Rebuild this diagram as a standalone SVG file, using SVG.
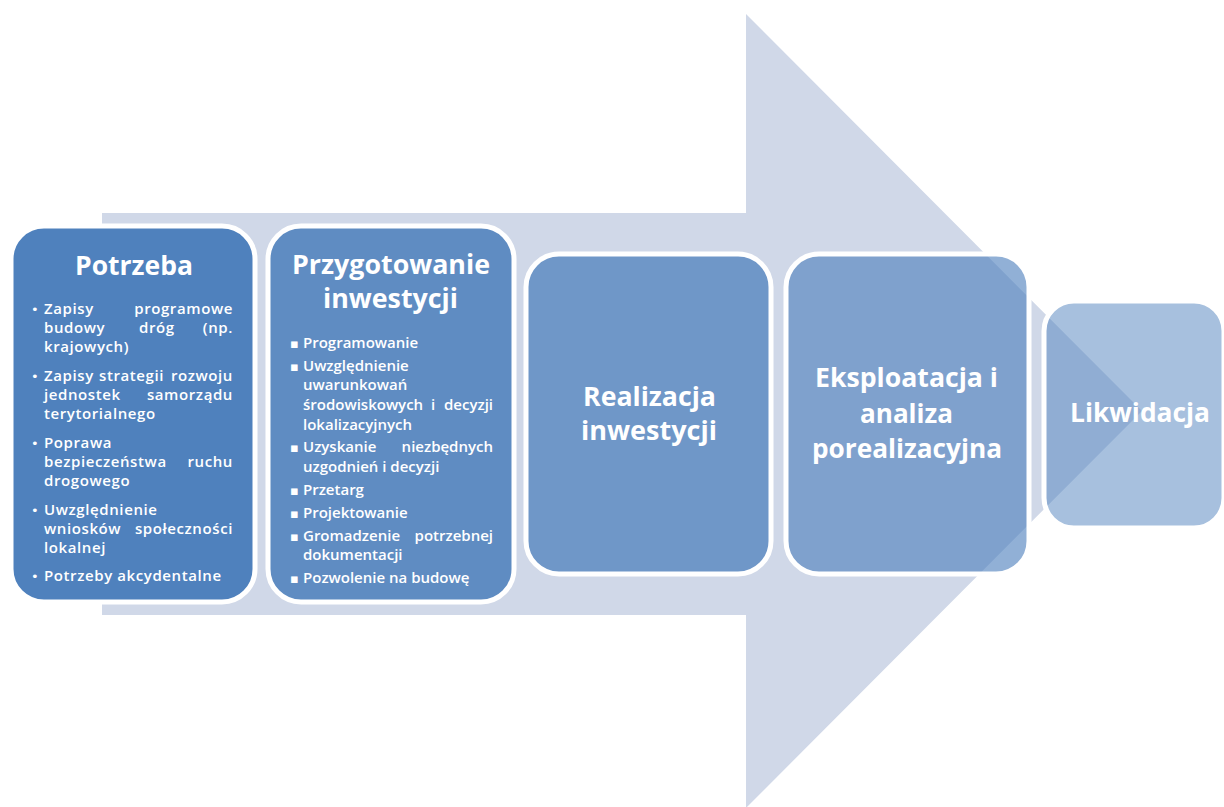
<svg xmlns="http://www.w3.org/2000/svg" width="1224" height="807" viewBox="0 0 1224 807">
<style>
.box{fill:#4F81BD;stroke:#FFFFFF;stroke-width:5}
.t{font-family:"Open Sans","Liberation Sans",sans-serif;font-weight:700;fill:#FFFFFF;text-anchor:middle}
.t1{font-size:27px}
.t3{font-size:26px}
.t2{font-size:27px}
.b{font-family:"Open Sans","Liberation Sans",sans-serif;font-weight:600;font-size:15px;fill:#FFFFFF}
.b1{letter-spacing:0.6px}
.e{text-anchor:end}
.bl{font-family:"DejaVu Sans",sans-serif;font-size:13px;font-weight:400;letter-spacing:0}
</style>
<rect width="1224" height="807" fill="#FFFFFF"/>
<g id="background-arrow">
<polygon points="102,213 746,213 746,14 1142,411 746,808 746,615 102,615" fill="#D0D8E8"/>
</g>
<g id="connectors"></g>
<g id="node-potrzeba">
<rect class="box" x="11" y="226" width="244" height="376" rx="33" fill-opacity="1"/>
<text class="t t1" x="134" y="275" textLength="118" lengthAdjust="spacingAndGlyphs">Potrzeba</text>
<text class="b b1"><tspan class="bl" x="31" y="314">•</tspan><tspan x="44" y="314">Zapisy</tspan><tspan class="e" x="233" y="314">programowe</tspan><tspan x="44" y="333">budowy</tspan><tspan x="139" y="333">dróg</tspan><tspan class="e" x="233" y="333">(np.</tspan><tspan x="44" y="352">krajowych)</tspan></text>
<text class="b b1"><tspan class="bl" x="31" y="381">•</tspan><tspan x="44" y="381">Zapisy</tspan><tspan x="99" y="381">strategii</tspan><tspan class="e" x="233" y="381">rozwoju</tspan><tspan x="44" y="400">jednostek</tspan><tspan class="e" x="233" y="400">samorządu</tspan><tspan x="44" y="419">terytorialnego</tspan></text>
<text class="b b1"><tspan class="bl" x="31" y="448">•</tspan><tspan x="44" y="448">Poprawa</tspan><tspan x="44" y="467">bezpieczeństwa</tspan><tspan class="e" x="233" y="467">ruchu</tspan><tspan x="44" y="486">drogowego</tspan></text>
<text class="b b1"><tspan class="bl" x="31" y="515">•</tspan><tspan x="44" y="515">Uwzględnienie</tspan><tspan x="44" y="534">wniosków</tspan><tspan class="e" x="233" y="534">społeczności</tspan><tspan x="44" y="553">lokalnej</tspan></text>
<text class="b b1"><tspan class="bl" x="31" y="581">•</tspan><tspan x="44" y="581">Potrzeby akcydentalne</tspan></text>
</g>
<g id="node-przygotowanie">
<rect class="box" x="268" y="226" width="246" height="376" rx="33" fill-opacity="0.875"/>
<text class="t t3"><tspan x="391" y="274" textLength="198" lengthAdjust="spacingAndGlyphs">Przygotowanie</tspan><tspan x="390.5" y="308" textLength="135" lengthAdjust="spacingAndGlyphs">inwestycji</tspan></text>
<text class="b"><tspan class="bl" x="290" y="348">▪</tspan><tspan x="303" y="348">Programowanie</tspan></text>
<text class="b"><tspan class="bl" x="290" y="371">▪</tspan><tspan x="303" y="371">Uwzględnienie</tspan><tspan x="303" y="390">uwarunkowań</tspan><tspan x="303" y="410">środowiskowych</tspan><tspan x="431" y="410">i</tspan><tspan class="e" x="493" y="410">decyzji</tspan><tspan x="303" y="430">lokalizacyjnych</tspan></text>
<text class="b"><tspan class="bl" x="290" y="452">▪</tspan><tspan x="303" y="452">Uzyskanie</tspan><tspan class="e" x="493" y="452">niezbędnych</tspan><tspan x="303" y="472">uzgodnień i decyzji</tspan></text>
<text class="b"><tspan class="bl" x="290" y="495">▪</tspan><tspan x="303" y="495">Przetarg</tspan></text>
<text class="b"><tspan class="bl" x="290" y="518">▪</tspan><tspan x="303" y="518">Projektowanie</tspan></text>
<text class="b"><tspan class="bl" x="290" y="541">▪</tspan><tspan x="303" y="541">Gromadzenie</tspan><tspan class="e" x="493" y="541">potrzebnej</tspan><tspan x="303" y="560">dokumentacji</tspan></text>
<text class="b"><tspan class="bl" x="290" y="583">▪</tspan><tspan x="303" y="583">Pozwolenie na budowę</tspan></text>
</g>
<g id="node-realizacja">
<rect class="box" x="526" y="254" width="245" height="320" rx="33" fill-opacity="0.75"/>
<text class="t t2"><tspan x="649.5" y="406" textLength="133" lengthAdjust="spacingAndGlyphs">Realizacja</tspan><tspan x="649" y="440" textLength="136" lengthAdjust="spacingAndGlyphs">inwestycji</tspan></text>
</g>
<g id="node-eksploatacja">
<rect class="box" x="786" y="254" width="243" height="320" rx="33" fill-opacity="0.625"/>
<text class="t t2"><tspan x="906.5" y="387" textLength="183" lengthAdjust="spacingAndGlyphs">Eksploatacja i</tspan><tspan x="906.5" y="423" textLength="93" lengthAdjust="spacingAndGlyphs">analiza</tspan><tspan x="907" y="458" textLength="190" lengthAdjust="spacingAndGlyphs">porealizacyjna</tspan></text>
</g>
<g id="node-likwidacja">
<rect class="box" x="1044" y="301" width="180" height="227" rx="30" fill-opacity="0.5"/>
<text class="t t2" x="1140" y="422" textLength="140" lengthAdjust="spacingAndGlyphs">Likwidacja</text>
</g>
</svg>
